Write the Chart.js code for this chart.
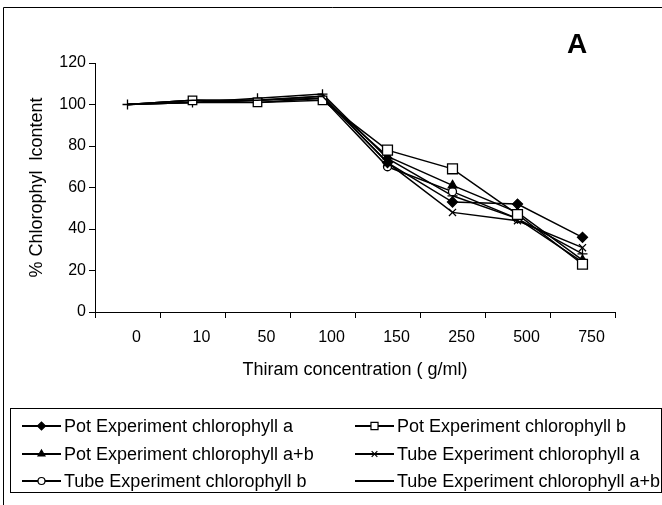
<!DOCTYPE html>
<html>
<head>
<meta charset="utf-8">
<script src="https://cdn.jsdelivr.net/npm/chart.js@4/dist/chart.umd.min.js"></script>
<style>
  body { margin: 0; background: #fff; }
  #wrap { width: 662px; height: 505px; position: relative; }
</style>
</head>
<body>
<div id="wrap"><canvas id="chart"></canvas></div>
<script>
// concentrations on the x axis
var concentrations = ['0', '10', '50', '100', '150', '250', '500', '750'];
var yTicks = [0, 20, 40, 60, 80, 100, 120];

// % chlorophyll content
var potA   = [100, 102, 102, 104, 72, 53, 52, 36];
var potB   = [100, 102, 101, 102, 78, 69, 47, 23];
var potAB  = [100, 102, 102, 103, 75, 61, 48, 25];
var tubeA  = [100, 101, 102, 104, 72, 48, 44, 31];
var tubeB  = [100, 101, 101, 103, 70, 58, 45, 24];
var tubeAB = [100, 101, 103, 105, 74, 56, 45, 28];

var seriesNames = [
    'Pot Experiment chlorophyll a', 'Pot Experiment chlorophyll b',
    'Pot Experiment chlorophyll a+b', 'Tube Experiment chlorophyll a',
    'Tube Experiment chlorophyll b', 'Tube Experiment chlorophyll a+b'
];

var FONT = 'Arial, "Liberation Sans", sans-serif';

// markers are mostly buried in the overlapping lines on the left part
function radii(r, early) {
    return concentrations.map(function(c, i) { return i === 0 ? (early === 'all' ? r : 0) : (i < 4 ? early === 'all' ? r : early : r); });
}

function series(label, data, style, radius, fill, legendMarker) {
    return {
        label: label,
        data: data,
        borderColor: '#000',
        borderWidth: 1.5,
        pointStyle: style,
        pointRadius: radius,
        pointBackgroundColor: fill,
        pointBorderColor: '#000',
        pointBorderWidth: 1.3,
        tension: 0,
        legendMarker: legendMarker
    };
}

// legend box + outer frame + panel letter
var decorations = {
    id: 'decorations',
    afterDraw: function(chart) {
        var ctx = chart.ctx;
        ctx.save();
        ctx.strokeStyle = '#000';
        ctx.lineWidth = 1;
        // outer frame (top and left edges visible)
        ctx.beginPath();
        ctx.moveTo(3.5, 505); ctx.lineTo(3.5, 7.5); ctx.lineTo(662, 7.5);
        ctx.stroke();

        // panel letter
        ctx.fillStyle = '#000';
        ctx.font = 'bold 28px ' + FONT;
        ctx.textAlign = 'center';
        ctx.textBaseline = 'middle';
        ctx.fillText('A', 577, 45);

        // legend
        ctx.strokeRect(10.5, 408.5, 651, 84);
        ctx.font = '18px ' + FONT;
        ctx.textAlign = 'left';
        var cols = [22, 355];
        var rows = [426, 454, 481];
        chart.data.datasets.forEach(function(ds, i) {
            var x0 = cols[i % 2], y = rows[Math.floor(i / 2)];
            ctx.strokeStyle = '#000';
            ctx.lineWidth = 2;
            ctx.beginPath();
            ctx.moveTo(x0, y); ctx.lineTo(x0 + 39, y);
            ctx.stroke();
            if (ds.legendMarker) {
                ctx.fillStyle = ds.pointBackgroundColor;
                ctx.lineWidth = 1.2;
                Chart.helpers.drawPoint(ctx, {
                    pointStyle: ds.pointStyle,
                    radius: ds.legendMarker,
                    rotation: 0,
                    borderWidth: 1.2
                }, x0 + 19.5, y);
            }
            ctx.fillStyle = '#000';
            ctx.fillText(ds.label, x0 + 42, y + 1);
        });
        ctx.restore();
    }
};

new Chart(document.getElementById('chart'), {
    type: 'line',
    data: {
        labels: concentrations,
        datasets: [
            series(seriesNames[0], potA, 'rectRot', radii(5, 0), '#000', 4),
            series(seriesNames[1], potB, 'rect', radii(7, 6), '#fff', 5),
            series(seriesNames[2], potAB, 'triangle', radii(5, 0), '#000', 4),
            series(seriesNames[3], tubeA, 'crossRot', radii(5, 0), '#000', 4),
            series(seriesNames[4], tubeB, 'circle', radii(4, 0), '#fff', 3.5),
            series(seriesNames[5], tubeAB, 'cross', radii(5, 'all'), '#000', 0)
        ]
    },
    options: {
        responsive: true,
        maintainAspectRatio: false,
        animation: false,
        layout: { padding: { top: 63, right: 47, left: 0, bottom: 124 } },
        plugins: {
            legend: { display: false },
            tooltip: { enabled: false }
        },
        scales: {
            x: {
                offset: true,
                grid: { offset: true, drawOnChartArea: false, tickLength: 6, color: '#000', lineWidth: 1 },
                border: { color: '#000', width: 1 },
                ticks: { color: '#000', font: { family: FONT, size: 16 }, padding: 10, labelOffset: 9, maxRotation: 0 },
                title: { display: true, text: 'Thiram concentration ( g/ml)', color: '#000',
                         font: { family: FONT, size: 18 }, padding: { top: 0, bottom: 0 } },
                afterFit: function(scale) { scale.height = 69; }
            },
            y: {
                min: 0,
                max: 120,
                afterBuildTicks: function(scale) {
                    scale.ticks = yTicks.map(function(v) { return { value: v }; });
                },
                grid: { drawOnChartArea: false, tickLength: 6, color: '#000', lineWidth: 1 },
                border: { color: '#000', width: 1 },
                ticks: { color: '#000', font: { family: FONT, size: 16 }, padding: 3 },
                title: { display: true, text: '% Chlorophyl  lcontent', color: '#000',
                         font: { family: FONT, size: 18 }, padding: { top: 26, bottom: 0 } },
                afterFit: function(scale) { scale.width = 95; }
            }
        }
    },
    plugins: [decorations]
});
</script>
</body>
</html>
